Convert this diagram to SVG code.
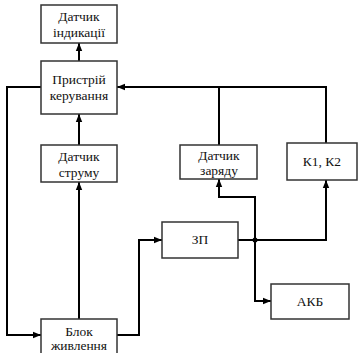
<svg xmlns="http://www.w3.org/2000/svg" width="358" height="353" viewBox="0 0 358 353">
  <style>
    .box { fill: #ffffff; stroke: #333333; stroke-width: 1.5; }
    .wire { fill: none; stroke: #000000; stroke-width: 2; }
    .arr { marker-end: url(#head); }
  </style>
  <defs>
    <marker id="head" markerUnits="userSpaceOnUse" markerWidth="8" markerHeight="8" viewBox="0 0 8 8" refX="8" refY="4" orient="auto">
      <path d="M0,0.8 L8,4 L0,7.2 Z" fill="#000000"/>
    </marker>
  </defs>
  <rect width="358" height="353" fill="#ffffff"/>

  <!-- wiring between blocks -->
  <g id="connectors">
    <path class="wire arr" d="M79,61 V43"/>
    <path class="wire arr" d="M41,87 H7 V335 H41"/>
    <path class="wire arr" d="M79,319 V182"/>
    <path class="wire arr" d="M79,145 V114"/>
    <path class="wire arr" d="M117,335 H139 V240 H162"/>
    <path class="wire arr" d="M238,240 H326 V180"/>
    <path class="wire arr" d="M255,240 V301 H271"/>
    <path class="wire arr" d="M255,240 V197 H219 V179"/>
    <path class="wire arr" d="M219,145 V87 H117"/>
    <path class="wire" d="M326,143 V87 H219"/>
    <circle cx="255" cy="240" r="2.5" fill="#000000"/>
  </g>

  <g font-family="Liberation Serif, Times New Roman, serif" font-size="13.5" fill="#111111" text-anchor="middle">
    <g id="datchyk-indykatsii">
      <rect class="box" x="41" y="5" width="76" height="38"/>
      <text x="79" y="21">Датчик</text>
      <text x="79" y="37">індикації</text>
    </g>
    <g id="prystrii-keruvannia">
      <rect class="box" x="41" y="61" width="76" height="53"/>
      <text x="79" y="84">Пристрій</text>
      <text x="79" y="100">керування</text>
    </g>
    <g id="datchyk-strumu">
      <rect class="box" x="41" y="145" width="76" height="37"/>
      <text x="79" y="161">Датчик</text>
      <text x="79" y="177">струму</text>
    </g>
    <g id="datchyk-zariadu">
      <rect class="box" x="180" y="145" width="77" height="34"/>
      <text x="219" y="160">Датчик</text>
      <text x="219" y="175">заряду</text>
    </g>
    <g id="k1-k2">
      <rect class="box" x="287" y="143" width="70" height="37"/>
      <text x="322" y="166">К1, К2</text>
    </g>
    <g id="zp">
      <rect class="box" x="162" y="222" width="76" height="36"/>
      <text x="200" y="244">ЗП</text>
    </g>
    <g id="akb">
      <rect class="box" x="271" y="284" width="78" height="35"/>
      <text x="310" y="306">АКБ</text>
    </g>
    <g id="blok-zhyvlennia">
      <rect class="box" x="41" y="319" width="76" height="40"/>
      <text x="79" y="336">Блок</text>
      <text x="79" y="350">живлення</text>
    </g>
  </g>
</svg>
